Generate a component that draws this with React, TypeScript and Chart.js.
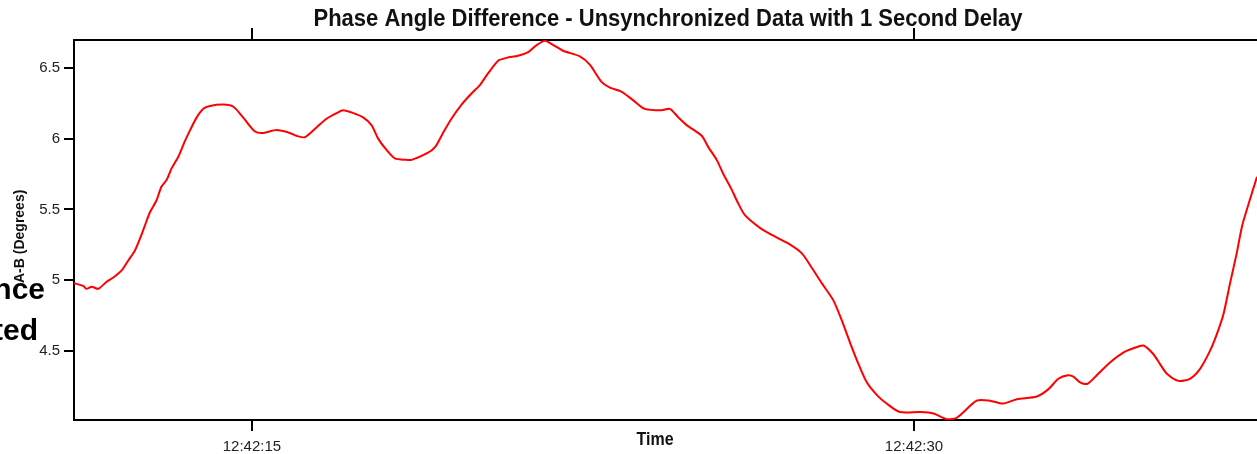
import React, { useEffect, useRef } from "react";
import { Chart, registerables } from "chart.js";

Chart.register(...registerables);

// Time in seconds after 12:42:00
const timeSec: number[] = [
  10.97, 11.18, 11.25, 11.37, 11.52, 11.71, 11.86, 12.05, 12.2, 12.35,
  12.46, 12.58, 12.69, 12.84, 12.95, 13.07, 13.18, 13.33, 13.48, 13.6,
  13.75, 13.9, 14.05, 14.35, 14.58, 14.8, 15.07, 15.26, 15.56, 15.86,
  16.01, 16.2, 16.47, 16.69, 16.92, 17.07, 17.3, 17.52, 17.71, 17.86,
  18.05, 18.24, 18.51, 18.62, 18.96, 19.15, 19.33, 19.52, 19.75, 19.98,
  20.17, 20.35, 20.58, 20.77, 21.03, 21.26, 21.45, 21.64, 21.83, 22.05,
  22.43, 22.66, 22.92, 23.11, 23.38, 23.64, 23.9, 24.28, 24.47, 24.66,
  24.85, 25.19, 25.34, 25.53, 25.68, 25.87, 25.99, 26.17, 26.51, 26.78,
  27.15, 27.46, 27.68, 27.91, 28.17, 28.36, 28.55, 28.74, 28.93, 29.16,
  29.38, 29.68, 30.14, 30.44, 30.74, 30.97, 31.42, 31.72, 32.02, 32.33,
  32.78, 33.04, 33.27, 33.49, 33.61, 33.76, 33.93, 34.14, 34.44, 34.74,
  34.97, 35.2, 35.42, 35.57, 35.73, 35.99, 36.25, 36.48, 36.71, 36.86,
  37.01, 37.16, 37.31, 37.43, 37.58, 37.77,
];

// Phase angle difference A-B (degrees)
const phaseDiff: number[] = [
  4.98, 4.96, 4.94, 4.955, 4.94, 4.99, 5.02, 5.07, 5.14, 5.21,
  5.29, 5.39, 5.48, 5.565, 5.66, 5.71, 5.79, 5.87, 5.98, 6.06,
  6.15, 6.21, 6.23, 6.24, 6.225, 6.15, 6.05, 6.04, 6.06, 6.04,
  6.02, 6.01, 6.08, 6.14, 6.18, 6.2, 6.18, 6.15, 6.095, 6.0,
  5.92, 5.86, 5.85, 5.85, 5.895, 5.94, 6.04, 6.14, 6.24, 6.32,
  6.38, 6.46, 6.55, 6.57, 6.585, 6.61, 6.66, 6.69, 6.66, 6.62,
  6.58, 6.52, 6.4, 6.36, 6.33, 6.27, 6.21, 6.2, 6.21, 6.15,
  6.095, 6.02, 5.94, 5.85, 5.75, 5.64, 5.56, 5.46, 5.37, 5.32,
  5.26, 5.19, 5.09, 4.98, 4.86, 4.72, 4.56, 4.41, 4.28, 4.19,
  4.13, 4.07, 4.07, 4.06, 4.02, 4.03, 4.15, 4.15, 4.13, 4.16,
  4.18, 4.23, 4.305, 4.33, 4.32, 4.28, 4.27, 4.33, 4.42, 4.49,
  4.52, 4.54, 4.48, 4.41, 4.34, 4.29, 4.305, 4.375, 4.505, 4.62,
  4.76, 4.98, 5.19, 5.38, 5.54, 5.73,
];

const xTickValues: number[] = [15, 30];
const yTickValues: number[] = [4.5, 5, 5.5, 6, 6.5];
const X_MIN = 10.97;
const X_MAX = 37.77;
const Y_MIN = 4.014;
const Y_MAX = 6.696;

const TITLE = "Phase Angle Difference - Unsynchronized Data with 1 Second Delay";
const X_TITLE = "Time";
const Y_TITLE = "A-B (Degrees)";
const BG_TEXT_1 = "nce";
const BG_TEXT_2 = "ted";

const FONT = "'Liberation Sans', Arial, sans-serif";

const fmtTime = (v: number) => "12:42:" + String(Math.round(v)).padStart(2, "0");

export default function App() {
  const ref = useRef<HTMLCanvasElement | null>(null);

  useEffect(() => {
    if (!ref.current) return;
    const textPlugin = {
      id: "texts",
      afterDraw(chart: any) {
        const ctx = chart.ctx;
        ctx.save();
        ctx.fillStyle = "#111";
        ctx.textAlign = "center";
        ctx.textBaseline = "middle";
        // title, slightly stretched vertically like the source image
        ctx.save();
        ctx.translate(668, 19);
        ctx.scale(1, 1.1);
        ctx.font = `bold 22px ${FONT}`;
        ctx.fillText(TITLE, 0, 0);
        ctx.restore();
        ctx.save();
        ctx.translate(655, 440);
        ctx.scale(1, 1.1);
        ctx.font = `bold 16px ${FONT}`;
        ctx.fillText(X_TITLE, 0, 0);
        ctx.restore();
        // y title (partly hidden)
        ctx.save();
        ctx.translate(20, 283);
        ctx.rotate(-Math.PI / 2);
        ctx.textAlign = "left";
        ctx.font = `bold 14px ${FONT}`;
        ctx.fillText(Y_TITLE, 0, 0);
        ctx.restore();
        // slide text fragments
        ctx.fillStyle = "#000";
        ctx.textAlign = "right";
        ctx.textBaseline = "alphabetic";
        ctx.font = `bold 30px ${FONT}`;
        ctx.fillText(BG_TEXT_1, 45, 299);
        ctx.fillText(BG_TEXT_2, 38, 340);
        ctx.restore();
      },
    };

    const chart = new Chart(ref.current, {
      type: "line",
      data: {
        datasets: [
          {
            data: timeSec.map((t, i) => ({ x: t, y: phaseDiff[i] })),
            borderColor: "#ff0000",
            borderWidth: 2,
            pointRadius: 0,
            tension: 0.25,
            fill: false,
          },
        ],
      },
      options: {
        animation: false,
        responsive: false,
        maintainAspectRatio: false,
        layout: { padding: 0 },
        plugins: {
          legend: { display: false },
          title: { display: false },
          tooltip: { enabled: false },
        },
        scales: {
          x: {
            type: "linear",
            position: "bottom",
            min: X_MIN,
            max: X_MAX,
            afterBuildTicks: (s: any) => {
              s.ticks = xTickValues.map((v) => ({ value: v }));
            },
            afterFit: (s: any) => {
              s.height = 34;
            },
            ticks: {
              callback: (v: any) => fmtTime(Number(v)),
              font: { family: FONT, size: 15 },
              color: "#222",
              padding: 7,
              maxRotation: 0,
              autoSkip: false,
            },
            grid: { drawOnChartArea: false, drawTicks: true, tickLength: 11, color: "#000", lineWidth: 2 },
            border: { color: "#000", width: 2 },
          },
          x2: {
            type: "linear",
            position: "top",
            min: X_MIN,
            max: X_MAX,
            afterBuildTicks: (s: any) => {
              s.ticks = xTickValues.map((v) => ({ value: v }));
            },
            afterFit: (s: any) => {
              s.height = 40;
            },
            ticks: { display: false },
            grid: { drawOnChartArea: false, drawTicks: true, tickLength: 12, color: "#000", lineWidth: 2 },
            border: { color: "#000", width: 2 },
          },
          y: {
            type: "linear",
            position: "left",
            min: Y_MIN,
            max: Y_MAX,
            afterBuildTicks: (s: any) => {
              s.ticks = yTickValues.map((v) => ({ value: v }));
            },
            afterFit: (s: any) => {
              s.width = 74;
            },
            ticks: {
              callback: (v: any) => String(v),
              font: { family: FONT, size: 15 },
              color: "#222",
              padding: 4,
            },
            grid: { drawOnChartArea: false, drawTicks: true, tickLength: 10, color: "#000", lineWidth: 2 },
            border: { color: "#000", width: 2 },
          },
        },
      } as any,
      plugins: [textPlugin],
    });
    return () => chart.destroy();
  }, []);

  return (
    <div style={{ position: "fixed", left: 0, top: 0, width: 1257, height: 454, background: "#fff" }}>
      <canvas ref={ref} width={1257} height={454} style={{ display: "block", width: 1257, height: 454 }} />
    </div>
  );
}
